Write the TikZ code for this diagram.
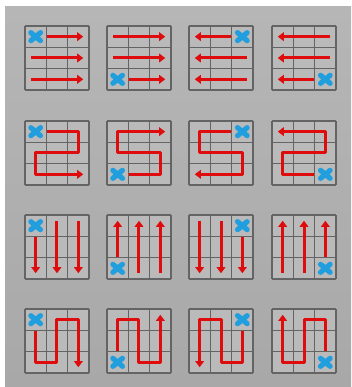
\documentclass[tikz,border=0pt]{standalone}
\usepackage{tikz}
\usetikzlibrary{calc,arrows.meta}
\definecolor{bgtop}{RGB}{182,182,182}
\definecolor{bgbot}{RGB}{168,168,168}
\definecolor{cellgray}{RGB}{186,186,186}
\definecolor{linegray}{RGB}{100,100,100}
\definecolor{arrred}{RGB}{222,12,12}
\definecolor{xblue}{RGB}{32,158,222}

\begin{document}
\begin{tikzpicture}[x=1pt, y=-1pt,
		panel/.style 2 args={shift={(#1,#2)}, x=21.33pt, y=-21.33pt},
		gridline/.style={draw=linegray, line width=1.4pt},
		arr/.style={draw=arrred, line width=3pt, line join=round, -{Triangle[length=6pt,width=8.5pt]}},
		marker/.style={minimum size=21.33pt, inner sep=0pt,
			path picture={
				\draw[xblue, line width=5.2pt, line cap=round]
				([shift={(-4.8pt,-4pt)}]path picture bounding box.center) -- ([shift={(4.8pt,4pt)}]path picture bounding box.center)
				([shift={(-4.8pt,4pt)}]path picture bounding box.center) -- ([shift={(4.8pt,-4pt)}]path picture bounding box.center);
			}}]
		
		%------------------------------------------------
		% Backdrop
		%------------------------------------------------
		\useasboundingbox (0,0) rectangle (351,387);
		\shade[top color=bgtop, bottom color=bgbot] (5,7) rectangle (351,387);
		
		%------------------------------------------------
		% 3x3 grids
		%------------------------------------------------
		\foreach \gx in {25,107,189,272}{
			\foreach \gy in {26,121,215,309}{
				\begin{scope}[panel={\gx}{\gy}]
					\fill[cellgray] (0,0) rectangle (3,3);
					\foreach \k in {0,1,2,3}{
						\draw[gridline] (\k,0) -- (\k,3);
						\draw[gridline] (0,\k) -- (3,\k);
					}
				\end{scope}
			}
		}
		
		%------------------------------------------------
		% Row 1: horizontal sweeps
		%------------------------------------------------
		\begin{scope}[panel={25}{26}]
			\node[marker] (xa) at (0.5,0.5) {};
			\draw[arr] (xa.east) -- (2.73,0.5);
			\draw[arr] (0.27,1.5) -- (2.73,1.5);
			\draw[arr] (0.27,2.5) -- (2.73,2.5);
		\end{scope}
		\begin{scope}[panel={107}{26}]
			\node[marker] (xb) at (0.5,2.5) {};
			\draw[arr] (0.27,0.5) -- (2.73,0.5);
			\draw[arr] (0.27,1.5) -- (2.73,1.5);
			\draw[arr] (xb.east) -- (2.73,2.5);
		\end{scope}
		\begin{scope}[panel={189}{26}]
			\node[marker] (xc) at (2.5,0.5) {};
			\draw[arr] (xc.west) -- (0.27,0.5);
			\draw[arr] (2.73,1.5) -- (0.27,1.5);
			\draw[arr] (2.73,2.5) -- (0.27,2.5);
		\end{scope}
		\begin{scope}[panel={272}{26}]
			\node[marker] (xd) at (2.5,2.5) {};
			\draw[arr] (2.73,0.5) -- (0.27,0.5);
			\draw[arr] (2.73,1.5) -- (0.27,1.5);
			\draw[arr] (xd.west) -- (0.27,2.5);
		\end{scope}
		
		%------------------------------------------------
		% Row 2: horizontal snakes
		%------------------------------------------------
		\begin{scope}[panel={25}{121}]
			\node[marker] (xe) at (0.5,0.5) {};
			\draw[arr] (xe.east) -- (2.5,0.5) -- (2.5,1.5) -- (0.5,1.5) -- (0.5,2.5) -- (2.73,2.5);
		\end{scope}
		\begin{scope}[panel={107}{121}]
			\node[marker] (xf) at (0.5,2.5) {};
			\draw[arr] (xf.east) -- (2.5,2.5) -- (2.5,1.5) -- (0.5,1.5) -- (0.5,0.5) -- (2.73,0.5);
		\end{scope}
		\begin{scope}[panel={189}{121}]
			\node[marker] (xg) at (2.5,0.5) {};
			\draw[arr] (xg.west) -- (0.5,0.5) -- (0.5,1.5) -- (2.5,1.5) -- (2.5,2.5) -- (0.27,2.5);
		\end{scope}
		\begin{scope}[panel={272}{121}]
			\node[marker] (xh) at (2.5,2.5) {};
			\draw[arr] (xh.west) -- (0.5,2.5) -- (0.5,1.5) -- (2.5,1.5) -- (2.5,0.5) -- (0.27,0.5);
		\end{scope}
		
		%------------------------------------------------
		% Row 3: vertical sweeps
		%------------------------------------------------
		\begin{scope}[panel={25}{215}]
			\node[marker] (xi) at (0.5,0.5) {};
			\draw[arr] (xi.south) -- (0.5,2.73);
			\draw[arr] (1.5,0.27) -- (1.5,2.73);
			\draw[arr] (2.5,0.27) -- (2.5,2.73);
		\end{scope}
		\begin{scope}[panel={107}{215}]
			\node[marker] (xj) at (0.5,2.5) {};
			\draw[arr] (xj.north) -- (0.5,0.27);
			\draw[arr] (1.5,2.73) -- (1.5,0.27);
			\draw[arr] (2.5,2.73) -- (2.5,0.27);
		\end{scope}
		\begin{scope}[panel={189}{215}]
			\node[marker] (xk) at (2.5,0.5) {};
			\draw[arr] (0.5,0.27) -- (0.5,2.73);
			\draw[arr] (1.5,0.27) -- (1.5,2.73);
			\draw[arr] (xk.south) -- (2.5,2.73);
		\end{scope}
		\begin{scope}[panel={272}{215}]
			\node[marker] (xl) at (2.5,2.5) {};
			\draw[arr] (0.5,2.73) -- (0.5,0.27);
			\draw[arr] (1.5,2.73) -- (1.5,0.27);
			\draw[arr] (xl.north) -- (2.5,0.27);
		\end{scope}
		
		%------------------------------------------------
		% Row 4: vertical snakes
		%------------------------------------------------
		\begin{scope}[panel={25}{309}]
			\node[marker] (xm) at (0.5,0.5) {};
			\draw[arr] (xm.south) -- (0.5,2.5) -- (1.5,2.5) -- (1.5,0.5) -- (2.5,0.5) -- (2.5,2.73);
		\end{scope}
		\begin{scope}[panel={107}{309}]
			\node[marker] (xn) at (0.5,2.5) {};
			\draw[arr] (xn.north) -- (0.5,0.5) -- (1.5,0.5) -- (1.5,2.5) -- (2.5,2.5) -- (2.5,0.27);
		\end{scope}
		\begin{scope}[panel={189}{309}]
			\node[marker] (xo) at (2.5,0.5) {};
			\draw[arr] (xo.south) -- (2.5,2.5) -- (1.5,2.5) -- (1.5,0.5) -- (0.5,0.5) -- (0.5,2.73);
		\end{scope}
		\begin{scope}[panel={272}{309}]
			\node[marker] (xp) at (2.5,2.5) {};
			\draw[arr] (xp.north) -- (2.5,0.5) -- (1.5,0.5) -- (1.5,2.5) -- (0.5,2.5) -- (0.5,0.27);
		\end{scope}
		
	\end{tikzpicture}
\end{document}
